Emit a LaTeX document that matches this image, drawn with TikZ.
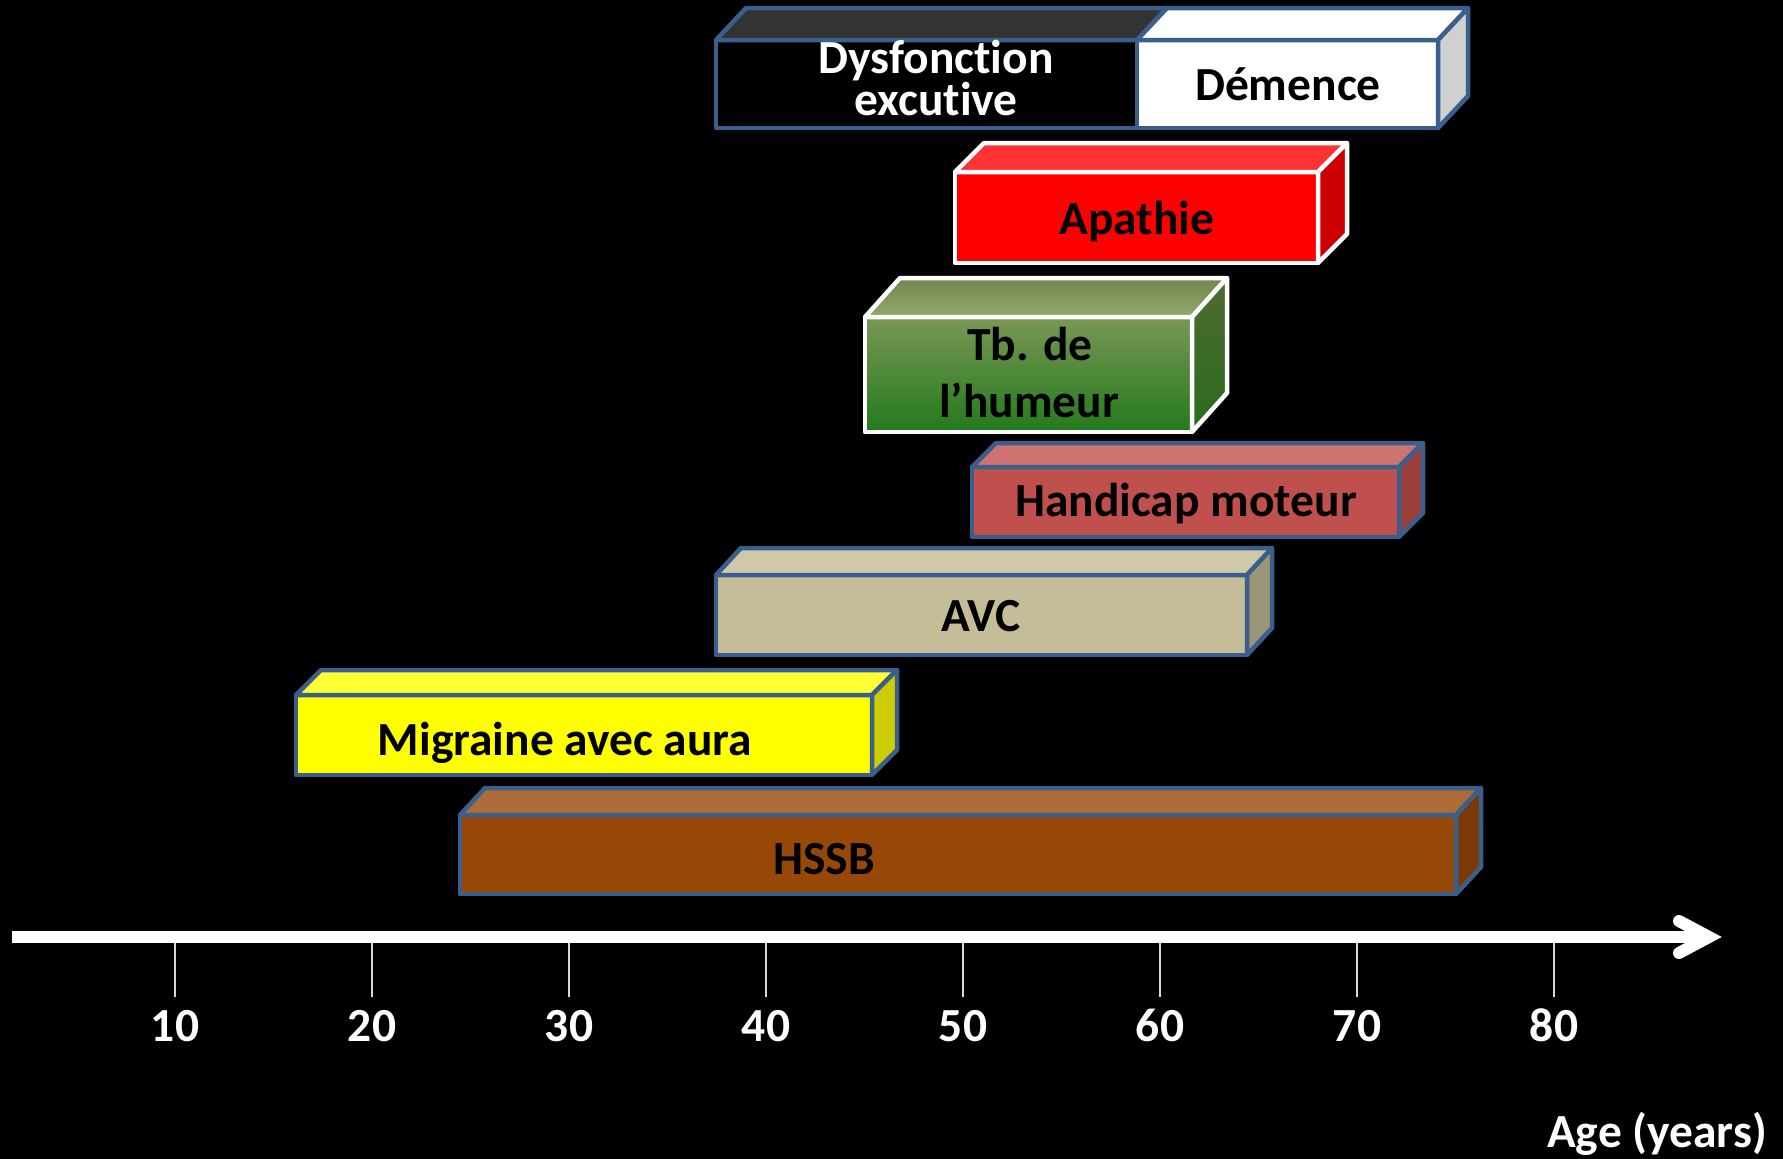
\documentclass[tikz,border=0pt]{standalone}
\usepackage{fontspec}
\setmainfont{Carlito}[Ligatures={NoCommon,NoRare,NoContextual}]
\definecolor{edgeblue}{HTML}{3B5F8C}
\definecolor{dystop}{HTML}{333333}
\definecolor{demside}{HTML}{D0D0D0}
\definecolor{apfront}{HTML}{FF0000}
\definecolor{aptop}{HTML}{FF3333}
\definecolor{apside}{HTML}{CC0000}
\definecolor{tbtopA}{HTML}{72864D}
\definecolor{tbtopB}{HTML}{93A86E}
\definecolor{tbfrontA}{HTML}{7A9755}
\definecolor{tbfrontB}{HTML}{9CB972}
\definecolor{tbfrontC}{HTML}{237A1E}
\definecolor{tbsideA}{HTML}{4F6A2E}
\definecolor{tbsideB}{HTML}{6F8F4E}
\definecolor{tbsideC}{HTML}{2A6B1E}
\definecolor{hmfront}{HTML}{C0504D}
\definecolor{hmtop}{HTML}{CD7372}
\definecolor{hmside}{HTML}{9B3E3C}
\definecolor{avcfront}{HTML}{C4BD97}
\definecolor{avctop}{HTML}{CFC9A9}
\definecolor{avcside}{HTML}{9C9678}
\definecolor{migfront}{HTML}{FFFF00}
\definecolor{migtop}{HTML}{FFFF33}
\definecolor{migside}{HTML}{CCCC00}
\definecolor{hsfront}{HTML}{974806}
\definecolor{hstop}{HTML}{AB6C38}
\definecolor{hsside}{HTML}{7A3A05}
\definecolor{tickgray}{HTML}{D9D9D9}
% x1,y1,x2,y2,dx,dy,front opts,top opts,side opts
\newcommand{\cuboid}[9]{%
  \path[#7] (#1,#2) rectangle (#3,#4);
  \path[#8] (#1,#2) -- ({#1+#5},{#2-#6}) -- ({#3+#5},{#2-#6}) -- (#3,#2) -- cycle;
  \path[#9] (#3,#2) -- ({#3+#5},{#2-#6}) -- ({#3+#5},{#4-#6}) -- (#3,#4) -- cycle;
}
\begin{document}
\begin{tikzpicture}[x=1pt,y=-1pt,
  lbl/.style={font=\fontsize{47.5}{50}\selectfont\bfseries, inner sep=0pt, anchor=base},
  face/.style={line width=4.5pt, line join=round},
  bl/.style={face, draw=edgeblue},
  wl/.style={face, draw=white}]
\useasboundingbox (0,0) rectangle (1783,1159);
\fill[black] (0,0) rectangle (1783,1159);

% Box 1: Dysfonction / Demence
\path[bl, fill=black] (716,40) rectangle (1137,128);
\path[bl, fill=white] (1137,40) rectangle (1438,128);
\path[bl, fill=dystop] (716,40) -- (746,8) -- (1167,8) -- (1137,40) -- cycle;
\path[bl, fill=white] (1137,40) -- (1167,8) -- (1468,8) -- (1438,40) -- cycle;
\path[bl, fill=demside] (1438,40) -- (1468,8) -- (1468,96) -- (1438,128) -- cycle;
\node[lbl, text=white] (dys1) at (936,73) {Dysfonction};
\node[lbl, text=white] (dys2) at (936,115) {excutive};
\node[lbl, text=black] (dem) at (1288,100) {Démence};

% Apathie
\cuboid{955}{172}{1318}{263}{29}{29}{wl, fill=apfront}{wl, fill=aptop}{wl, fill=apside}
\node[lbl] (apa) at (1137,234) {Apathie};

% Tb. de l'humeur
\cuboid{865}{317}{1192}{432}{35}{39}%
  {wl, top color=tbfrontA, middle color=tbfrontB, bottom color=tbfrontC}%
  {wl, top color=tbtopA, bottom color=tbtopB}%
  {wl, top color=tbsideA, middle color=tbsideB, bottom color=tbsideC}
\node[lbl] (tb1) at (1030,360) {Tb. de};
\node[lbl] (tb2) at (1029,417) {l’humeur};

% Handicap moteur
\cuboid{972}{467}{1399}{537}{24}{24}{bl, fill=hmfront}{bl, fill=hmtop}{bl, fill=hmside}
\node[lbl] (hm) at (1186,516) {Handicap moteur};

% AVC
\cuboid{716}{575}{1247}{655}{25}{27}{bl, fill=avcfront}{bl, fill=avctop}{bl, fill=avcside}
\node[lbl] (avc) at (981,631) {AVC};

% Migraine avec aura
\cuboid{296}{695}{872}{775}{25}{25}{bl, fill=migfront}{bl, fill=migtop}{bl, fill=migside}
\node[lbl] (mig) at (565,755) {Migraine avec aura};

% HSSB
\cuboid{460}{815}{1456}{894}{25}{27}{bl, fill=hsfront}{bl, fill=hstop}{bl, fill=hsside}
\node[lbl] (hssb) at (824,874) {HSSB};

% Axis
\coordinate (axL) at (12,937);
\coordinate (axR) at (1706,937);
\draw[white, line width=12pt] (axL) -- (axR);
\coordinate (chA) at (1679,921);
\coordinate (chT) at (1709,937);
\coordinate (chB) at (1679,953);
\draw[white, line width=12pt, line cap=round, line join=miter] (chA) -- (chT) -- (chB);

\foreach \v [count=\i from 0] in {10,20,30,40,50,60,70,80}{
  \coordinate (ta\i) at ({175+197*\i},943);
  \coordinate (tb\i) at ({175+197*\i},997);
  \draw[tickgray, line width=1.5pt] (ta\i) -- (tb\i);
  \node[lbl, text=white] (num\i) at ({175+197*\i},1041) {\v};
}
\node[lbl, text=white, anchor=base east] (age) at (1767,1147) {Age (years)};
\end{tikzpicture}
\end{document}
